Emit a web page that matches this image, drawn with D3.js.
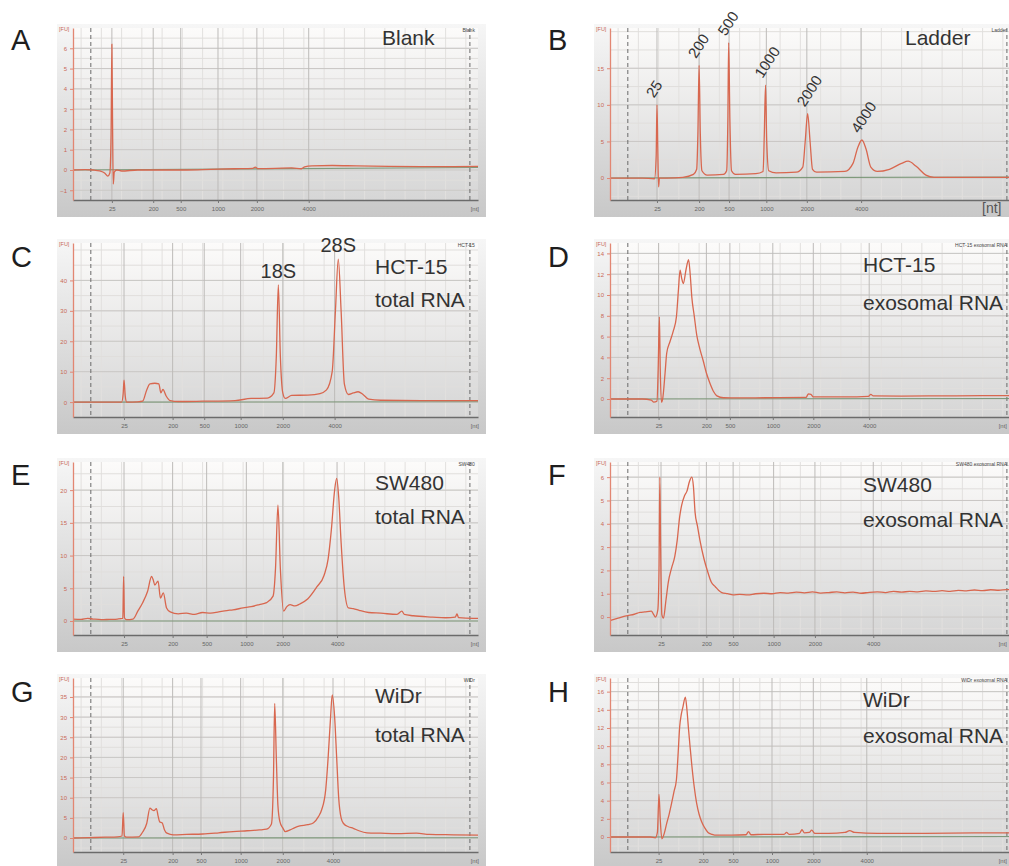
<!DOCTYPE html>
<html><head><meta charset="utf-8">
<script src="https://cdn.jsdelivr.net/npm/d3@7"></script>
<style>
body{margin:0;background:#fff;}
svg{display:block;font-family:"Liberation Sans",Arial,sans-serif;}
</style>
</head><body>
<svg id="chart" width="1009" height="866"></svg>
<script>
// ---------------- DATA ----------------
const panelIds = ["A","B","C","D","E","F","G","H"];
const sampleNames = ["Blank","Ladder","HCT-15","HCT-15 exosomal RNA","SW480","SW480 exosomal RNA","WiDr","WiDr exosomal RNA"];
const annotationLines = [["Blank"],["Ladder"],["HCT-15","total RNA"],["HCT-15","exosomal RNA"],["SW480","total RNA"],["SW480","exosomal RNA"],["WiDr","total RNA"],["WiDr","exosomal RNA"]];
const sizeLabels = ["25","200","500","1000","2000","4000"];
const rRNALabels = ["18S","28S"];
const timeDomain = [19, 69];          // migration time (s)
const markerTimes = [21.2, 68.0];     // lower / upper marker dashed lines

// time positions of the ladder sizes in each run
const ticksA = [23.8, 28.9, 32.3, 36.9, 41.7, 48.1];
const ticksB = [24.8, 30.0, 33.7, 38.3, 43.3, 50.0];
const ticksC = [25.3, 31.3, 35.2, 39.7, 44.9, 51.3];
const ticksD = [25.0, 30.9, 33.8, 39.1, 44.1, 51.0];
const ticksE = [25.3, 31.3, 35.5, 40.4, 44.9, 51.6];
const ticksF = [25.3, 30.9, 34.2, 39.2, 44.3, 51.5];
const ticksG = [25.2, 31.3, 34.8, 39.7, 44.9, 51.1];
const ticksH = [25.0, 30.5, 34.2, 39.0, 44.1, 50.7];

// fluorescence axes
const yDomA = [-1.48, 7.0],  yTicksA = [-1,0,1,2,3,4,5,6];
const yDomB = [-3.0, 20.5],  yTicksB = [0,5,10,15];
const yDomC = [-4.9, 52.3],  yTicksC = [0,10,20,30,40];
const yDomD = [-1.73, 15.0], yTicksD = [0,2,4,6,8,10,12,14];
const yDomE = [-2.14, 24.3], yTicksE = [0,5,10,15,20];
const yDomF = [-0.77, 6.65], yTicksF = [0,1,2,3,4,5,6];
const yDomG = [-3.47, 39.7], yTicksG = [0,5,10,15,20,25,30,35];
const yDomH = [-1.65, 17.5], yTicksH = [0,2,4,6,8,10,12,14,16];

// traces: [time (s), FU]
const traceA = [[19,0],[20.5,0.02],[21.5,0],[22.3,-0.05],[22.9,-0.15],[23.3,-0.3],[23.55,-0.15],[23.7,1.8],[23.8,6.2],[23.88,2.5],[23.97,-0.7],[24.1,-0.1],[24.4,0],[25,-0.05],[27,0],[30,0],[33,0],[36,0.03],[39,0.06],[41.2,0.08],[41.5,0.14],[41.8,0.07],[44,0.08],[46,0.1],[47.2,0.06],[47.6,0.15],[48.5,0.2],[51,0.22],[54,0.2],[58,0.18],[62,0.17],[66,0.17],[69,0.18]];
const traceB = [[19,0],[21,0],[23,0],[24.5,-0.1],[24.7,3],[24.8,10],[24.9,4],[25.0,-1.2],[25.1,0],[26,0],[28,0.1],[29.3,0.5],[29.7,1.2],[29.85,6],[30.0,15.4],[30.15,6],[30.35,1],[31,0.4],[33,0.5],[33.4,1],[33.55,8],[33.65,18.5],[33.8,8],[34.0,1],[34.5,0.5],[37,0.6],[37.9,0.9],[38.05,6],[38.2,12.7],[38.35,5],[38.6,1],[39.5,0.7],[42,0.8],[42.8,1.5],[43.1,5],[43.4,8.8],[43.7,5],[44.0,1.2],[44.5,0.8],[48,0.9],[49,2],[49.6,4.2],[50.1,5.2],[50.6,4],[51.2,1.5],[52,0.9],[53.5,1.2],[55,2],[55.8,2.3],[56.8,1.6],[58,0.4],[59,0.1],[69,0.1]];
const traceC = [[19,0],[22,0],[25.0,0],[25.2,3],[25.3,7.2],[25.45,2],[25.6,0],[27,0.1],[27.6,0.3],[28.1,4],[28.5,6],[29.1,6.2],[29.6,6],[29.85,3],[30.1,4.2],[30.5,2],[31,0.5],[32,0.2],[35,0.3],[39,0.5],[41,1.2],[43,1.3],[43.8,3],[44.1,15],[44.35,38.5],[44.6,15],[44.9,3],[45.2,1.2],[46,2.2],[48,2.3],[49.5,2.8],[50.3,4],[51,10],[51.4,30],[51.75,47],[52.1,30],[52.5,6],[53,2.5],[53.6,3],[54.2,3.4],[54.8,2.5],[55.5,1],[57,0.6],[62,0.5],[69,0.5]];
const traceD = [[19,0],[21,0],[23,0],[24.1,-0.1],[24.4,-0.3],[24.8,-0.2],[24.95,3],[25.1,7.9],[25.2,3],[25.35,-0.3],[25.5,0],[25.8,2.5],[26.0,4.4],[26.4,5.5],[26.8,6.5],[27.2,7.9],[27.45,10.5],[27.65,12.4],[27.85,11.6],[28.05,11.1],[28.4,12.5],[28.7,13.4],[28.9,12],[29.1,9.8],[29.4,8],[29.7,6.2],[30.1,4.8],[30.5,3.7],[30.9,2.5],[31.35,1.5],[31.8,0.7],[32.2,0.3],[33,0.12],[35,0.1],[38,0.12],[43.2,0.15],[43.5,0.5],[43.8,0.45],[44.1,0.2],[48,0.2],[50.9,0.25],[51.2,0.45],[51.5,0.3],[55,0.28],[60,0.3],[65,0.32],[69,0.33]];
const traceE = [[19,0.3],[20,0.25],[20.8,0.4],[21.5,0.3],[22.5,0.2],[23.5,0.25],[24.5,0.3],[25.15,0.4],[25.25,6.8],[25.35,0.5],[25.6,0.2],[26.4,0.3],[27,1.5],[27.6,2.8],[28.2,4.5],[28.7,6.8],[28.9,6.3],[29.1,5.5],[29.5,6.1],[29.8,3.5],[30.15,4.3],[30.55,2],[31.0,1.4],[32,1.1],[33,1.2],[34,1],[35,1.3],[36,1.2],[37,1.4],[38,1.6],[38.75,1.7],[40,2],[41,2.2],[42,2.5],[42.9,2.8],[43.7,3.8],[44.0,8],[44.3,17.7],[44.6,8],[45.0,1.5],[45.4,2.2],[45.8,2.5],[46.4,2.3],[47.0,2.6],[48,3.4],[49.1,5.2],[50,7],[50.5,9.5],[50.9,14],[51.3,20],[51.55,21.8],[51.8,19],[52.1,12],[52.5,5],[53.0,2],[53.6,1.9],[54.4,1.6],[55.5,1.3],[57,1.2],[59,1.0],[59.6,1.5],[59.9,1.0],[61,0.8],[63.4,0.6],[65,0.5],[66.2,0.6],[66.4,1.1],[66.6,0.5],[68.4,0.4],[69,0.4]];
const traceF = [[19,-0.15],[20,-0.05],[21,0.05],[22,0.12],[22.7,0.2],[23.3,0.22],[24.1,0.25],[24.4,0.1],[24.6,0.0],[24.9,0.3],[25.05,2],[25.15,6.0],[25.25,3],[25.4,0.1],[25.6,-0.05],[25.9,0.7],[26.2,1.5],[26.6,2.1],[27.0,2.6],[27.3,3.3],[27.6,4.3],[27.85,4.8],[28.2,5.2],[28.5,5.4],[28.8,5.8],[29.1,6.0],[29.3,5.6],[29.5,4.5],[29.8,3.9],[30.1,3.3],[30.6,2.5],[31.1,1.9],[31.5,1.5],[32.0,1.3],[32.4,1.15],[32.8,1.05],[33.5,1.0],[34.2,0.95],[35,0.97],[36,0.95],[37,1.0],[38,1.02],[39,1.0],[40,1.05],[41,1.03],[42,1.07],[43,1.04],[44,1.08],[45,1.03],[46,1.05],[47,1.08],[48,1.04],[49,1.07],[50,1.02],[51,1.06],[52,1.08],[53,1.05],[54,1.1],[55,1.07],[56,1.1],[57,1.08],[58,1.12],[59,1.1],[60,1.13],[61,1.1],[62,1.14],[63,1.12],[64,1.16],[65,1.13],[66,1.17],[67,1.15],[68,1.18],[69,1.18]];
const traceG = [[19,0],[21,0.1],[23,0.2],[24.5,0.3],[25.05,0.5],[25.2,6.3],[25.35,0.5],[25.6,0.2],[27.1,0.3],[27.6,1.5],[28.1,3.6],[28.5,7.4],[28.75,7],[29.0,6.8],[29.3,7.3],[29.5,5.5],[29.7,4.0],[30.0,3.8],[30.3,2],[30.6,1.2],[31.4,0.8],[33,0.9],[35,1.0],[37,1.3],[38.75,1.6],[40.5,1.8],[42,2.0],[42.9,2.2],[43.5,3.5],[43.75,15],[43.9,33.4],[44.1,20],[44.3,8],[44.55,4],[44.9,2.5],[45.2,1.6],[45.8,2.0],[46.4,2.6],[47.0,3.0],[48.0,3.3],[48.7,3.8],[49.3,5.3],[49.7,7],[50.2,12],[50.5,20],[50.8,30],[51.0,35.5],[51.3,30],[51.55,20],[51.8,10],[52.1,5],[52.4,3.6],[53.0,2.8],[53.6,2.4],[54.3,1.8],[55.3,1.3],[57,1.2],[59,1.1],[61.4,1.2],[63,0.9],[66,0.8],[69,0.7]];
const traceH = [[19,0],[22,0],[24.0,0],[24.6,-0.1],[24.85,0.5],[25.05,4.7],[25.2,2],[25.4,-0.2],[25.7,0.4],[26.0,1.5],[26.3,2.5],[26.6,3.7],[26.9,5],[27.2,6.3],[27.4,9],[27.6,12.1],[27.8,13.5],[28.0,14.3],[28.3,15.4],[28.5,14],[28.7,11.8],[28.9,9.8],[29.1,7.9],[29.4,5.5],[29.7,3.7],[30.0,2.5],[30.3,1.7],[30.7,1.0],[31.1,0.5],[31.6,0.3],[32.2,0.2],[34,0.2],[35.8,0.25],[36.1,0.6],[36.4,0.25],[38,0.3],[40.5,0.3],[40.8,0.5],[41.1,0.3],[42.4,0.4],[42.7,0.8],[43.0,0.45],[43.6,0.5],[43.9,0.75],[44.3,0.4],[46,0.4],[48,0.5],[48.6,0.7],[49.2,0.5],[52,0.4],[58,0.4],[64,0.45],[69,0.45]];

// baseline (green) traces
const baseA = [[19,0],[69,0.12]];
const baseB = [[19,0],[69,0.15]];
const baseC = [[19,0],[69,0.1]];
const baseD = [[19,0],[69,0.05]];
const baseE = [[19,0],[69,0]];
const baseF = [];
const baseG = [[19,0],[69,0.05]];
const baseH = [[19,0],[69,0.05]];

// ladder peaks annotated in panel B: [time, FU of peak top]
const ladderPeakTimes = [24.8, 30.0, 33.65, 38.2, 43.4, 50.1];
const ladderPeakHeights = [10, 15.4, 18.5, 12.7, 8.8, 5.2];
// rRNA peaks annotated in panel C
const rRNAPeakTimes = [44.35, 51.75];
const rRNAPeakHeights = [38.5, 47];

const panels = [
  {ticks:ticksA, yDom:yDomA, yTicks:yTicksA, trace:traceA, base:baseA},
  {ticks:ticksB, yDom:yDomB, yTicks:yTicksB, trace:traceB, base:baseB},
  {ticks:ticksC, yDom:yDomC, yTicks:yTicksC, trace:traceC, base:baseC},
  {ticks:ticksD, yDom:yDomD, yTicks:yTicksD, trace:traceD, base:baseD},
  {ticks:ticksE, yDom:yDomE, yTicks:yTicksE, trace:traceE, base:baseE},
  {ticks:ticksF, yDom:yDomF, yTicks:yTicksF, trace:traceF, base:baseF},
  {ticks:ticksG, yDom:yDomG, yTicks:yTicksG, trace:traceG, base:baseG},
  {ticks:ticksH, yDom:yDomH, yTicks:yTicksH, trace:traceH, base:baseH}
];

// ---------------- LAYOUT ----------------
const W = 1009;
const colX = [73, 610];
const rowTop = [28, 243, 462, 678];
const rowBottom = [200, 417, 635, 852];
const plotW = 405;
const letterY = [50, 267, 485, 702];
const letterX = [11, 548];
const annX = [309, 295, 302, 253, 302, 253, 302, 253];
const annY = [[17],[17],[31,64],[29,67],[28,62],[30,65],[25,64],[29,65]];

const svg = d3.select("#chart");
const defs = svg.append("defs");
function grad(id, c0, c1){
  const g = defs.append("linearGradient").attr("id", id).attr("x1",0).attr("y1",0).attr("x2",0).attr("y2",1);
  g.append("stop").attr("offset","0%").attr("stop-color",c0);
  g.append("stop").attr("offset","100%").attr("stop-color",c1);
}
grad("frameGrad", "#f6f6f6", "#c8c8c8");
grad("plotGrad", "#fcfbfa", "#d6d6d6");

const traceColor = "#d8674f";

panels.forEach((p, i) => {
  const col = i % 2, row = Math.floor(i / 2);
  const x0 = colX[col], top = rowTop[row], bottom = rowBottom[row];
  const x = d3.scaleLinear().domain(timeDomain).range([x0, x0 + plotW]);
  const y = d3.scaleLinear().domain(p.yDom).range([bottom, top]);
  const g = svg.append("g");

  // frame & plot background
  g.append("rect").attr("x", x0 - 16).attr("y", top - 4).attr("width", plotW + 24).attr("height", bottom - top + 21)
    .attr("fill", "url(#frameGrad)");
  g.append("rect").attr("x", x0).attr("y", top).attr("width", plotW).attr("height", bottom - top)
    .attr("fill", "url(#plotGrad)");

  // grid
  const grid = g.append("g");
  grid.selectAll("line.vmin").data(d3.range(20, 69, 2.5)).join("line")
    .attr("x1", d => x(d)).attr("x2", d => x(d)).attr("y1", top).attr("y2", bottom)
    .attr("stroke", "#e2e0de").attr("stroke-width", 1);
  const step = p.yTicks[1] - p.yTicks[0];
  const minorY = d3.range(Math.ceil(p.yDom[0] / (step/2)) * (step/2), p.yDom[1], step/2);
  grid.selectAll("line.hmin").data(minorY).join("line")
    .attr("x1", x0).attr("x2", x0 + plotW).attr("y1", d => y(d)).attr("y2", d => y(d))
    .attr("stroke", "#e0dedc").attr("stroke-width", 1);
  grid.selectAll("line.hmaj").data(p.yTicks).join("line")
    .attr("x1", x0).attr("x2", x0 + plotW).attr("y1", d => y(d)).attr("y2", d => y(d))
    .attr("stroke", "#c9c7c5").attr("stroke-width", 1);
  grid.selectAll("line.vmaj").data(p.ticks).join("line")
    .attr("x1", d => x(d)).attr("x2", d => x(d)).attr("y1", top).attr("y2", bottom)
    .attr("stroke", "#bdbbb9").attr("stroke-width", 1);

  // marker dashed lines
  g.selectAll("line.mk").data(markerTimes).join("line")
    .attr("x1", d => x(d)).attr("x2", d => x(d)).attr("y1", top).attr("y2", bottom)
    .attr("stroke", "#6a6a6a").attr("stroke-width", 1).attr("stroke-dasharray", "4,3");

  // clip
  const cid = "clip" + i;
  defs.append("clipPath").attr("id", cid).append("rect")
    .attr("x", x0).attr("y", top - 2).attr("width", plotW).attr("height", bottom - top + 2);

  const line = d3.line().x(d => x(d[0])).y(d => y(d[1])).curve(d3.curveMonotoneX);
  if (p.base.length) {
    g.append("path").attr("d", line(p.base)).attr("clip-path", `url(#${cid})`)
      .attr("fill", "none").attr("stroke", "#6f8f6c").attr("stroke-width", 1.1).attr("opacity", 0.85);
  }
  g.append("path").attr("d", line(p.trace)).attr("clip-path", `url(#${cid})`)
    .attr("fill", "none").attr("stroke", traceColor).attr("stroke-width", 1.3).attr("stroke-linejoin", "round");

  // x axis
  const xa = g.append("g").attr("transform", `translate(0,${bottom})`)
    .call(d3.axisBottom(x).tickValues(p.ticks).tickFormat((d, j) => sizeLabels[j]).tickSize(3).tickSizeOuter(0));
  xa.select(".domain").attr("stroke", "#6b6b6b").attr("stroke-width", 1.3);
  xa.selectAll(".tick line").attr("stroke", "#777");
  xa.selectAll(".tick text").attr("font-size", 6).attr("fill", "#666").attr("dy", "0.9em");

  // y axis
  const ya = g.append("g").attr("transform", `translate(${x0},0)`)
    .call(d3.axisLeft(y).tickValues(p.yTicks).tickSize(3).tickSizeOuter(0));
  ya.select(".domain").attr("stroke", "#e28672").attr("stroke-width", 1.3);
  ya.selectAll(".tick line").attr("stroke", "#e28672");
  ya.selectAll(".tick text").attr("font-size", 6).attr("fill", "#c96a57");

  // unit labels
  g.append("text").attr("x", x0 - 14).attr("y", top + 3).attr("font-size", 5.5).attr("fill", "#c96a57").text("[FU]");
  if (i === 1) {
    g.append("text").attr("x", x0 + 372).attr("y", bottom + 13).attr("font-size", 14).attr("fill", "#555").text("[nt]");
  } else {
    g.append("text").attr("x", Math.min(x0 + 406, W - 2)).attr("y", bottom + 11).attr("text-anchor", "end")
      .attr("font-size", 6).attr("fill", "#666").text("[nt]");
  }
  // small sample name in corner
  g.append("text").attr("x", Math.min(x(markerTimes[1]) + 5, W - 2)).attr("y", top + 4).attr("text-anchor", "end")
    .attr("font-size", 5).attr("fill", "#444").text(sampleNames[i]);

  // panel letter
  svg.append("text").attr("x", letterX[col]).attr("y", letterY[row]).attr("font-size", 29)
    .attr("fill", "#1e1e1e").text(panelIds[i]);

  // annotation text
  annotationLines[i].forEach((t, k) => {
    g.append("text").attr("x", x0 + annX[i]).attr("y", top + annY[i][k])
      .attr("font-size", 21).attr("fill", "#333").text(t);
  });

  // ladder size labels (panel B)
  if (i === 1) {
    ladderPeakTimes.forEach((t, k) => {
      const px = x(t) - 3, py = y(ladderPeakHeights[k]) - 6;
      g.append("text").attr("transform", `translate(${px},${py}) rotate(-57)`)
        .attr("font-size", 15).attr("fill", "#333").text(sizeLabels[k]);
    });
  }
  // rRNA labels (panel C)
  if (i === 2) {
    rRNAPeakTimes.forEach((t, k) => {
      g.append("text").attr("x", x(t)).attr("y", y(rRNAPeakHeights[k]) - 7).attr("text-anchor", "middle")
        .attr("font-size", 20).attr("fill", "#333").text(rRNALabels[k]);
    });
  }
});
</script>
</body></html>
